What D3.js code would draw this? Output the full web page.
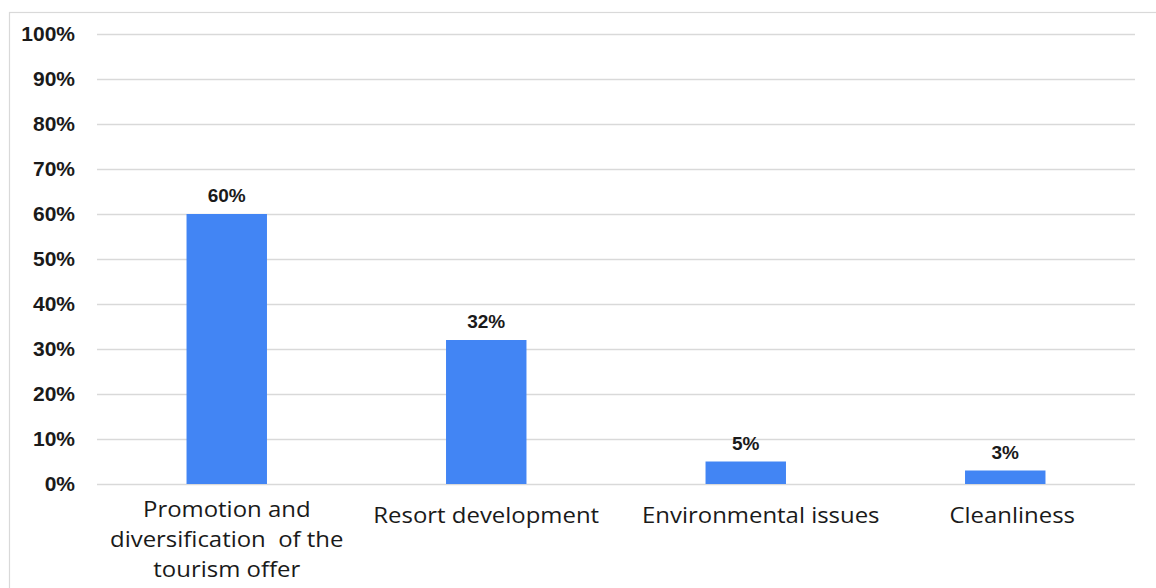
<!DOCTYPE html>
<html>
<head>
<meta charset="utf-8">
<script src="https://cdn.jsdelivr.net/npm/d3@7"></script>
<style>
  html, body { margin: 0; padding: 0; background: #fff; }
  svg { display: block; }
</style>
</head>
<body>
<svg id="chart" width="1156" height="588"></svg>
<script>
// Survey results: priorities for the tourism sector (share of respondents)
const categories = [
  ["Promotion and", "diversification  of the", "tourism offer"],
  ["Resort development"],
  ["Environmental issues"],
  ["Cleanliness"]
];
const values = [60, 32, 5, 3];
const yTicks = [0, 10, 20, 30, 40, 50, 60, 70, 80, 90, 100];

const svg = d3.select("#chart");
const W = 1156, H = 588;
const margin = { top: 34, right: 21, bottom: 104, left: 97 };

// Frame around the chart area
svg.append("rect")
  .attr("x", 9.5).attr("y", 12.5)
  .attr("width", W + 20).attr("height", H + 20)
  .attr("fill", "none").attr("stroke", "#d9d9d9").attr("stroke-width", 1.2);

const x = d3.scaleBand()
  .domain(d3.range(categories.length))
  .range([margin.left, W - margin.right])
  .paddingInner(0.69).paddingOuter(0.345);

const y = d3.scaleLinear()
  .domain([0, 100])
  .range([H - margin.bottom, margin.top]);

// Horizontal gridlines with percentage labels
const yAxis = d3.axisLeft(y)
  .tickValues(yTicks)
  .tickSize(-(W - margin.right - margin.left))
  .tickPadding(22)
  .tickFormat(d => d + "%");

const gy = svg.append("g")
  .attr("transform", `translate(${margin.left},0)`)
  .call(yAxis);
gy.select(".domain").remove();
gy.selectAll(".tick line").attr("stroke", "#d9d9d9").attr("stroke-width", 1.5);
gy.selectAll(".tick text")
  .attr("font-family", "Liberation Sans, Arial, sans-serif")
  .attr("font-weight", "bold")
  .attr("font-size", 21)
  .attr("fill", "#1a1a1a");

// Bars
svg.append("g").selectAll("rect")
  .data(values)
  .join("rect")
  .attr("x", (d, i) => x(i))
  .attr("y", d => y(d))
  .attr("width", x.bandwidth())
  .attr("height", d => y(0) - y(d))
  .attr("fill", "#4285f4");

// Value labels above bars
svg.append("g").selectAll("text")
  .data(values)
  .join("text")
  .attr("x", (d, i) => x(i) + x.bandwidth() / 2)
  .attr("y", d => y(d) - 12)
  .attr("text-anchor", "middle")
  .attr("font-family", "Liberation Sans, Arial, sans-serif")
  .attr("font-weight", "bold")
  .attr("font-size", 19)
  .attr("fill", "#1a1a1a")
  .text(d => d + "%");

// Category labels: wrapped labels start higher, single-line labels sit a bit lower
const labelShift = [0, 0, 15, 7];
const cat = svg.append("g").selectAll("text")
  .data(categories)
  .join("text")
  .attr("text-anchor", "middle")
  .attr("font-family", "Open Sans, sans-serif")
  .attr("font-size", 21)
  .attr("fill", "#1a1a1a")
  .attr("transform", (d, i) =>
    `translate(${x(i) + x.bandwidth() / 2 + labelShift[i]},${y(0) + (d.length > 1 ? 33 : 39)}) scale(1.14,1)`);
cat.selectAll("tspan")
  .data(d => d)
  .join("tspan")
  .attr("x", 0)
  .attr("dy", (d, i) => i === 0 ? 0 : 30)
  .attr("xml:space", "preserve")
  .text(d => d);
</script>
</body>
</html>
